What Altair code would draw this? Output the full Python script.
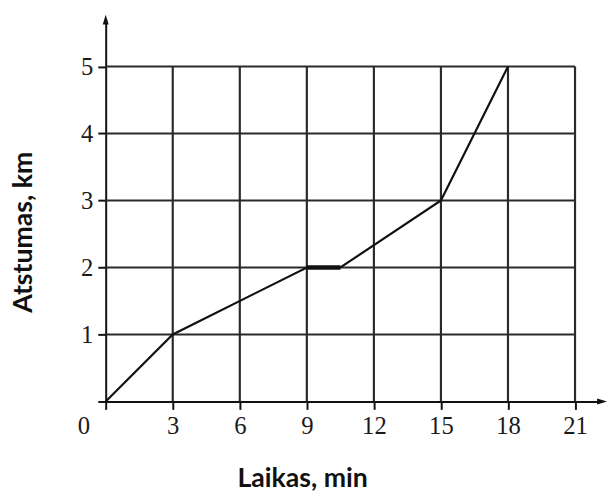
import altair as alt
import pandas as pd

# ---- data ----
time_min = [0, 3, 9, 10.5, 15, 18]
distance_km = [0, 1, 2, 2, 3, 5]
x_ticks = [0, 3, 6, 9, 12, 15, 18, 21]
y_ticks = [0, 1, 2, 3, 4, 5]
x_title = "Laikas, min"
y_title = "Atstumas, km"
origin_label = "0"

# ---- layout ----
W, H = 503, 387
XMAX = 22.21
YMAX = 5.70

INK = "#111111"
GRID = "#2a2a2a"
LABEL = "#1a1a1a"
SERIF = "Liberation Serif"
SANS = "Lato"

line_df = pd.DataFrame({"t": time_min, "d": distance_km})
stop_df = line_df.iloc[2:4]

vgrid = pd.DataFrame({"x": x_ticks[1:], "y0": [0] * (len(x_ticks) - 1),
                      "y1": [max(y_ticks)] * (len(x_ticks) - 1)})
hgrid = pd.DataFrame({"y": y_ticks[1:], "x0": [0] * (len(y_ticks) - 1),
                      "x1": [max(x_ticks)] * (len(y_ticks) - 1)})

xs = alt.Scale(domain=[0, XMAX], nice=False, zero=False)
ys = alt.Scale(domain=[0, YMAX], nice=False, zero=False)

UP = "M0,-1L0.6,1L-0.6,1Z"
RIGHT = "M1,0L-1,-0.6L-1,0.6Z"
arrow_df = pd.DataFrame({"x": [0, XMAX], "y": [YMAX, 0], "shape": [UP, RIGHT]})
origin_df = pd.DataFrame({"x": [0], "y": [0], "label": [origin_label]})

x_axis = alt.Axis(
    values=x_ticks, labelExpr="datum.value == 0 ? '' : datum.label",
    title=x_title, grid=False, domainColor=INK, domainWidth=2,
    tickColor=INK, tickWidth=2, tickSize=8,
    labelFont=SERIF, labelFontSize=25, labelColor=LABEL, labelPadding=4,
    labelFlush=False,
    titleFont=SANS, titleFontSize=27, titleFontWeight="bold", titleColor=INK,
    titleX=199, titleY=78, titleAlign="center", titleBaseline="middle",
)
y_axis = alt.Axis(
    values=y_ticks, labelExpr="datum.value == 0 ? '' : datum.label",
    title=y_title, grid=False, domainColor=INK, domainWidth=2,
    tickColor=INK, tickWidth=2, tickSize=8,
    labelFont=SERIF, labelFontSize=25, labelColor=LABEL, labelPadding=5,
    labelFlush=False,
    titleFont=SANS, titleFontSize=27, titleFontWeight="bold", titleColor=INK,
    titleX=-83, titleY=215, titleAlign="center", titleBaseline="middle",
)


def X(field):
    return alt.X(field, scale=xs, axis=x_axis)


def Y(field):
    return alt.Y(field, scale=ys, axis=y_axis)


grid_v = alt.Chart(vgrid).mark_rule(color=GRID, strokeWidth=2.2).encode(
    x=X("x:Q"), y=Y("y0:Q"), y2="y1:Q",
)
grid_h = alt.Chart(hgrid).mark_rule(color=GRID, strokeWidth=2.2).encode(
    y=Y("y:Q"), x=X("x0:Q"), x2="x1:Q",
)
line = alt.Chart(line_df).mark_line(color=INK, strokeWidth=2.2).encode(
    x=X("t:Q"), y=Y("d:Q"),
)
stop = alt.Chart(stop_df).mark_line(color=INK, strokeWidth=4.5).encode(
    x=X("t:Q"), y=Y("d:Q"),
)
arrows = alt.Chart(arrow_df).mark_point(filled=True, color=INK, size=100, opacity=1).encode(
    x=X("x:Q"), y=Y("y:Q"),
    shape=alt.Shape("shape:N", scale=None, legend=None),
)
origin = alt.Chart(origin_df).mark_text(
    font=SERIF, fontSize=25, color=LABEL, dx=-22, dy=25, align="center", baseline="middle"
).encode(
    x=X("x:Q"), y=Y("y:Q"), text="label:N",
)

chart = alt.layer(grid_v, grid_h, line, stop, arrows, origin).properties(
    width=W, height=H,
    padding={"left": 99, "top": 8.5, "right": 6, "bottom": 88},
    autosize="none",
    background="white",
).configure_view(stroke=None)

chart.save("out.html", embed_options={"renderer": "svg", "actions": False})
